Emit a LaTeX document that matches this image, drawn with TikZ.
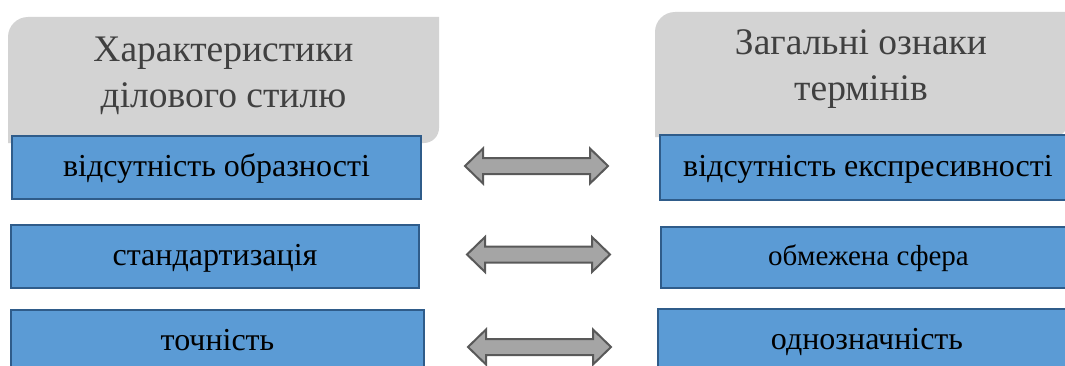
\documentclass[tikz,border=0pt]{standalone}
\usepackage{fontspec}
\setmainfont{Liberation Serif}
\usetikzlibrary{calc}
\definecolor{hdrgray}{HTML}{D3D3D3}
\definecolor{hdrtext}{HTML}{404040}
\definecolor{boxblue}{HTML}{5B9BD5}
\definecolor{boxedge}{HTML}{2F5C8A}
\definecolor{arrfill}{HTML}{A5A5A5}
\definecolor{arredge}{HTML}{595959}
\tikzset{
  hdrshape/.style={fill=hdrgray},
  hdrlabel/.style={text=hdrtext, font=\fontsize{37.5}{42}\selectfont, anchor=base, inner sep=0pt},
  itembox/.style={draw=boxedge, line width=2pt, fill=boxblue, rectangle, inner sep=0pt,
    text height=24pt, text depth=6pt, font=\fontsize{32}{36}\selectfont},
  arrowshape/.style={draw=arredge, fill=arrfill, line width=2pt, line join=miter},
  dblarrow/.pic={
    \path[arrowshape] (-71.5,0) -- ++(18,17.5) -- ++(0,-9.5) -- ++(107,0) -- ++(0,9.5)
      -- ++(18,-17.5) -- ++(-18,-17.5) -- ++(0,9.5) -- ++(-107,0) -- ++(0,-9.5) -- cycle;
  }
}
\begin{document}
\begin{tikzpicture}[x=1pt,y=1pt]
\useasboundingbox (0,0) rectangle (1065,365);
\clip (0,0) rectangle (1065,365);
% header shapes
\path[hdrshape] (8,222) -- (8,328) arc[start angle=180,end angle=90,radius=20]
  -- (439,348) -- (439,237) arc[start angle=0,end angle=-90,radius=15] -- cycle;
\path[hdrshape] (655,228) -- (655,333) arc[start angle=180,end angle=90,radius=20]
  -- (1068,353) -- (1068,243) arc[start angle=0,end angle=-90,radius=15] -- cycle;
\node[hdrlabel] (hL1) at (223.5,303) {Характеристики};
\node[hdrlabel] (hL2) at (223.5,258) {ділового стилю};
\node[hdrlabel] (hR1) at (861,310) {Загальні ознаки};
\node[hdrlabel] (hR2) at (861,265) {термінів};
% boxes
\node[itembox, minimum width=409pt, minimum height=63pt] (L1) at (216.5,197.5) {відсутність образності};
\node[itembox, minimum width=408pt, minimum height=63pt] (L2) at (215,108.5) {стандартизація};
\node[itembox, minimum width=413pt, minimum height=63pt] (L3) at (217.5,23.5) {точність};
\node[itembox, minimum width=416pt, minimum height=65pt] (R1) at (868,197.5) {відсутність експресивності};
\node[itembox, minimum width=415pt, minimum height=61pt, font=\fontsize{29}{32}\selectfont, text height=22pt, text depth=6pt] (R2) at (868.5,107.5) {обмежена сфера};
\node[itembox, minimum width=418pt, minimum height=63pt] (R3) at (867,24.5) {однозначність};
% arrows
\pic at ($(L1.east)!0.5!(R1.west)+(-4,1.5)$) {dblarrow};
\pic at ($(L2.east)!0.5!(R2.west)+(-1.5,2.5)$) {dblarrow};
\pic at ($(L3.east)!0.5!(R3.west)+(-1.5,-6)$) {dblarrow};
\end{tikzpicture}
\end{document}
